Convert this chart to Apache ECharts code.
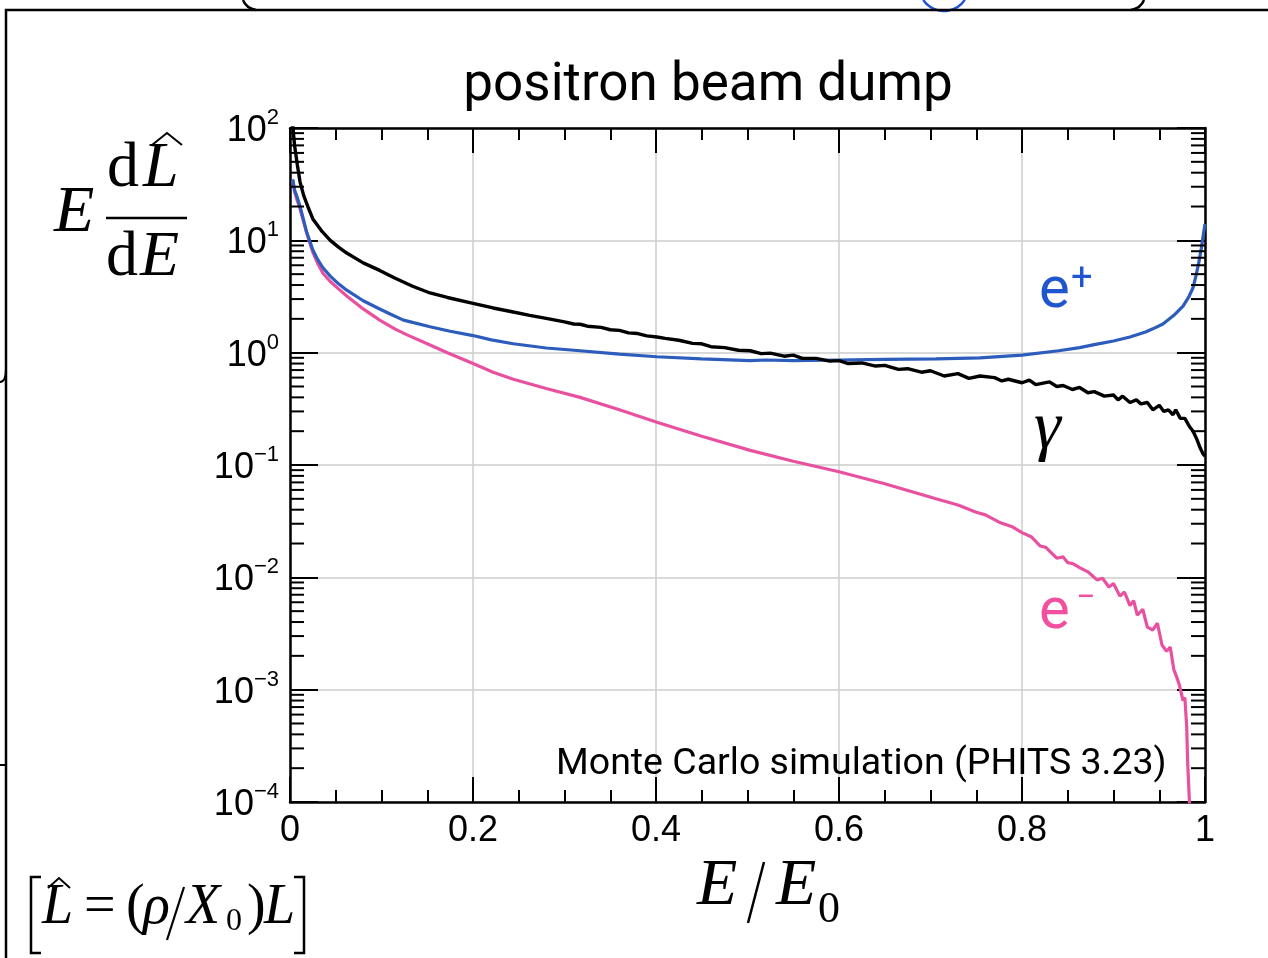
<!DOCTYPE html>
<html>
<head>
<meta charset="utf-8">
<title>positron beam dump</title>
<script src="https://cdn.jsdelivr.net/npm/echarts@6.0.0/dist/echarts.min.js"></script>
<style>
  html, body { margin: 0; padding: 0; background: #fff; }
  #chart { width: 1268px; height: 958px; }
</style>
</head>
<body>
<div id="chart"></div>
<script>
// tick values
var xTicks = [0, 0.2, 0.4, 0.6, 0.8, 1];
var yMinorSteps = [2, 3, 4, 5, 6, 7, 8, 9];
var yDecades = [-4, -3, -2, -1, 0, 1];

// photon (gamma)
var gammaE = [0.003, 0.005, 0.008, 0.011, 0.015, 0.02, 0.025, 0.035, 0.044, 0.053, 0.062, 0.08, 0.098, 0.115, 0.134, 0.153, 0.172, 0.2, 0.222, 0.244,
  0.262, 0.28, 0.3, 0.31, 0.317, 0.325, 0.34, 0.35, 0.36, 0.37, 0.38, 0.39, 0.401, 0.41, 0.425, 0.44, 0.45, 0.46, 0.475, 0.49,
  0.503, 0.515, 0.525, 0.54, 0.55, 0.56, 0.575, 0.59, 0.6, 0.61, 0.625, 0.64, 0.65, 0.665, 0.675, 0.69, 0.7, 0.715, 0.73, 0.742,
  0.754, 0.77, 0.778, 0.785, 0.8, 0.808, 0.815, 0.83, 0.838, 0.845, 0.855, 0.863, 0.872, 0.879, 0.89, 0.9, 0.905, 0.91, 0.918, 0.925,
  0.93, 0.937, 0.943, 0.95, 0.955, 0.96, 0.965, 0.968, 0.973, 0.978, 0.983, 0.987, 0.991, 0.995, 0.998, 1.0];
var gammaL = [105, 70, 47, 33, 25, 19.5, 15.5, 12, 10, 8.7, 7.7, 6.3, 5.4, 4.6, 3.9, 3.4, 3.1, 2.75, 2.5, 2.3,
  2.15, 2.02, 1.88, 1.8, 1.79, 1.72, 1.68, 1.6, 1.58, 1.5, 1.48, 1.41, 1.38, 1.34, 1.29, 1.21, 1.2, 1.13, 1.11, 1.05,
  1.04, 0.98, 0.99, 0.93, 0.95, 0.89, 0.89, 0.84, 0.85, 0.8, 0.81, 0.76, 0.77, 0.71, 0.72, 0.67, 0.69, 0.62, 0.65, 0.59,
  0.62, 0.6, 0.56, 0.58, 0.54, 0.57, 0.52, 0.55, 0.5, 0.51, 0.47, 0.49, 0.44, 0.45, 0.41, 0.42, 0.38, 0.41, 0.36, 0.38,
  0.35, 0.36, 0.31, 0.34, 0.3, 0.31, 0.28, 0.31, 0.26, 0.26, 0.22, 0.2, 0.17, 0.14, 0.125, 0.12];

// positron (e+)
var posE = [0.003, 0.005, 0.008, 0.011, 0.015, 0.018, 0.025, 0.03, 0.036, 0.044, 0.053, 0.062, 0.08, 0.098, 0.11, 0.124, 0.135, 0.153, 0.175, 0.2,
  0.22, 0.244, 0.28, 0.317, 0.36, 0.401, 0.45, 0.503, 0.52, 0.55, 0.6, 0.65, 0.706, 0.754, 0.8, 0.84, 0.863, 0.879, 0.9, 0.918,
  0.935, 0.943, 0.954, 0.966, 0.976, 0.982, 0.987, 0.99, 0.993, 0.996, 0.998, 1.0];
var posL = [35, 28, 24, 20, 15, 12, 8.2, 6.8, 5.7, 4.8, 4.1, 3.6, 2.9, 2.45, 2.2, 1.95, 1.85, 1.7, 1.55, 1.42,
  1.3, 1.2, 1.1, 1.04, 0.97, 0.92, 0.88, 0.85, 0.86, 0.85, 0.86, 0.87, 0.88, 0.9, 0.95, 1.04, 1.11, 1.18, 1.27, 1.38,
  1.53, 1.63, 1.8, 2.15, 2.6, 3.1, 3.8, 4.8, 6.2, 8.5, 11, 14];

// electron (e-)
var eleE = [0.003, 0.005, 0.008, 0.011, 0.015, 0.018, 0.025, 0.03, 0.036, 0.044, 0.053, 0.062, 0.08, 0.098, 0.115, 0.128, 0.15, 0.172, 0.2, 0.222,
  0.244, 0.28, 0.317, 0.36, 0.401, 0.45, 0.503, 0.55, 0.6, 0.65, 0.706, 0.73, 0.75, 0.76, 0.775, 0.79, 0.8, 0.81, 0.82, 0.826,
  0.838, 0.845, 0.85, 0.856, 0.863, 0.872, 0.882, 0.888, 0.895, 0.9, 0.907, 0.912, 0.918, 0.922, 0.926, 0.932, 0.937, 0.943, 0.948, 0.953,
  0.958, 0.962, 0.966, 0.969, 0.972, 0.976, 0.978, 0.98, 0.981, 0.983, 0.984];
var eleL = [34, 27, 22.5, 19, 14.5, 11.8, 7.8, 6.3, 5.1, 4.3, 3.7, 3.2, 2.45, 1.95, 1.62, 1.44, 1.2, 1.0, 0.8, 0.67,
  0.58, 0.48, 0.4, 0.31, 0.24, 0.18, 0.135, 0.108, 0.087, 0.068, 0.05, 0.044, 0.038, 0.036, 0.031, 0.028, 0.025, 0.023, 0.019, 0.0185,
  0.0148, 0.0152, 0.0135, 0.0132, 0.0122, 0.0112, 0.0095, 0.0098, 0.0082, 0.0088, 0.0068, 0.0074, 0.0056, 0.0062, 0.0046, 0.0052, 0.0036, 0.0034, 0.0039, 0.0025,
  0.0022, 0.0024, 0.0015, 0.0013, 0.0011, 0.0008, 0.00085, 0.00047, 0.00023, 0.0001, 0.00005];

function zip(a, b) {
    return a.map(function (v, i) { return [v, b[i]]; });
}

var yMinor = [];
yDecades.forEach(function (d) {
    yMinorSteps.forEach(function (m) { yMinor.push([0, m * Math.pow(10, d)]); });
});

var serif = 'Liberation Serif';
var sans = 'Liberation Sans';

// text helper, y = middle of the em box
function txt(x, y, s, size, o) {
    o = o || {};
    return {
        type: 'text', z: 100, silent: true,
        style: {
            text: s, x: x, y: y,
            fontSize: size, fontFamily: o.family || serif, fontStyle: o.italic ? 'italic' : 'normal',
            fill: o.color || '#000',
            align: o.align || 'left', textAlign: o.align || 'left',
            verticalAlign: 'middle', textVerticalAlign: 'middle'
        }
    };
}
function pl(points, color, w) {
    return { type: 'polyline', z: 100, silent: true, shape: { points: points },
        style: { stroke: color || '#000', lineWidth: w || 2.5, fill: null } };
}

var chart = echarts.init(document.getElementById('chart'));

var xAxisBase = {
    type: 'value', min: 0, max: 1, interval: 0.2,
    axisLine: { show: true, onZero: false, lineStyle: { color: '#000', width: 2.5 } },
    axisTick: { show: true, inside: true, length: 25, lineStyle: { color: '#000', width: 2 } },
    minorTick: { show: true, splitNumber: 4, length: 12, lineStyle: { color: '#000', width: 2 } },
    splitLine: { show: false },
    axisLabel: { show: false }
};

var yAxisBase = {
    type: 'log', logBase: 10, min: 1e-4, max: 100, interval: 1,
    axisLine: { show: true, onZero: false, lineStyle: { color: '#000', width: 2.5 } },
    axisTick: { show: true, inside: true, length: 28, lineStyle: { color: '#000', width: 2 } },
    minorTick: { show: false },
    splitLine: { show: false },
    axisLabel: { show: false }
};

chart.setOption({
    animation: false,
    backgroundColor: '#fff',
    grid: { left: 290, right: 63, top: 128, bottom: 156, containLabel: false, outerBoundsMode: 'none' },
    xAxis: [
        Object.assign({}, xAxisBase, {
            position: 'bottom',
            splitLine: { show: true, lineStyle: { color: '#cdcdcd', width: 1.5 } },
            axisLabel: {
                show: true, margin: 11, fontSize: 36, fontFamily: sans, color: '#000',
                formatter: function (v) { return String(+v.toFixed(2)); }
            }
        }),
        Object.assign({}, xAxisBase, { position: 'top' })
    ],
    yAxis: [
        Object.assign({}, yAxisBase, {
            position: 'left',
            splitLine: { show: true, lineStyle: { color: '#cdcdcd', width: 1.5 } },
            axisLabel: {
                show: true, margin: 11, align: 'right',
                formatter: function (v) {
                    var e = Math.round(Math.log10(v));
                    return '{b|10}{s|' + String(e).replace('-', '\u2212') + '}';
                },
                rich: {
                    b: { fontSize: 36, fontFamily: sans, color: '#000', lineHeight: 42, verticalAlign: 'bottom' },
                    s: { fontSize: 22, fontFamily: sans, color: '#000', lineHeight: 30, verticalAlign: 'top' }
                }
            }
        }),
        Object.assign({}, yAxisBase, { position: 'right' })
    ],
    series: [
        {
            name: 'e+', type: 'line', data: zip(posE, posL), showSymbol: false, symbol: 'none',
            lineStyle: { color: '#2c5cbc', width: 3.2 }, z: 3
        },
        {
            name: 'e-', type: 'line', data: zip(eleE, eleL), showSymbol: false, symbol: 'none',
            lineStyle: { color: '#e8519f', width: 3.2 }, z: 2
        },
        {
            name: 'gamma', type: 'line', data: zip(gammaE, gammaL), showSymbol: false, symbol: 'none',
            lineStyle: { color: '#000', width: 3.4 }, z: 4
        },
        {
            // minor log ticks, left and right
            type: 'custom', silent: true, clip: false, z: 6,
            data: yMinor,
            renderItem: function (params, api) {
                var l = api.coord([0, api.value(1)]);
                var r = api.coord([1, api.value(1)]);
                var st = { stroke: '#000', lineWidth: 2 };
                return { type: 'group', children: [
                    { type: 'line', shape: { x1: l[0], y1: l[1], x2: l[0] + 14, y2: l[1] }, style: st },
                    { type: 'line', shape: { x1: r[0] - 14, y1: r[1], x2: r[0], y2: r[1] }, style: st }
                ] };
            }
        }
    ],
    graphic: [
        // slide frame bits
        pl([[6, 958], [6, 10], [1268, 10]], '#000', 2.5),
        { type: 'bezierCurve', silent: true, shape: { x1: 243, y1: 0, cpx1: 246, cpy1: 8, x2: 256, y2: 10 }, style: { stroke: '#000', lineWidth: 2.5, fill: null } },
        { type: 'bezierCurve', silent: true, shape: { x1: 1144, y1: 0, cpx1: 1141, cpy1: 8, x2: 1131, y2: 10 }, style: { stroke: '#000', lineWidth: 2.5, fill: null } },
        { type: 'arc', silent: true, shape: { cx: 944, cy: -14, r: 25, startAngle: 0.59, endAngle: 2.55 }, style: { stroke: '#1f56d0', lineWidth: 2.5, fill: null } },
        { type: 'bezierCurve', silent: true, shape: { x1: 6, y1: 368, cpx1: 6, cpy1: 382, x2: 0, y2: 382 }, style: { stroke: '#000', lineWidth: 2, fill: null } },
        pl([[0, 765], [6, 765]], '#000', 2),

        // title and note
        txt(708, 87, 'positron beam dump', 53, { family: 'Roboto', align: 'center' }),
        txt(556, 765, 'Monte Carlo simulation (PHITS 3.23)', 37.5, { family: 'Roboto' }),

        // curve labels
        txt(1039, 292, 'e', 58, { family: 'Roboto', color: '#1f56d0' }),
        txt(1071, 280, '+', 38, { family: 'Roboto', color: '#1f56d0' }),
        txt(1034, 430, '\u03b3', 68, { italic: true }),
        txt(1039, 613, 'e', 58, { family: 'Roboto', color: '#f0509e' }),
        txt(1076, 599, '\u2212', 34, { family: 'Roboto', color: '#f0509e' }),

        // y axis name: E dL^/dE
        txt(54, 214, 'E', 66, { italic: true }),
        txt(107, 169, 'd', 64),
        txt(143, 169, 'L', 64, { italic: true }),
        pl([[152, 145], [167, 133], [182, 145]], '#000', 2),
        pl([[106, 218], [187, 218]], '#000', 2.5),
        txt(106, 258, 'd', 64),
        txt(140, 258, 'E', 64, { italic: true }),

        // x axis name: E/E0
        txt(697, 887, 'E', 66, { italic: true }),
        pl([[764, 862], [748, 923]], '#000', 2.5),
        txt(776, 887, 'E', 66, { italic: true }),
        txt(818, 910, '0', 44),

        // [L^ = (rho/X0) L]
        pl([[41, 877], [31, 877], [31, 953], [41, 953]], '#000', 2.5),
        txt(42, 908, 'L', 56, { italic: true }),
        pl([[48, 888], [59, 878], [70, 888]], '#000', 2),
        txt(84, 908, '=', 56),
        txt(126, 908, '(', 56),
        txt(143, 908, '\u03c1', 56, { italic: true }),
        pl([[184, 887], [167, 940]], '#000', 2.2),
        txt(186, 908, 'X', 56, { italic: true }),
        txt(226, 922, '0', 32),
        txt(247, 908, ')', 56),
        txt(264, 908, 'L', 56, { italic: true }),
        pl([[294, 877], [304, 877], [304, 953], [294, 953]], '#000', 2.5)
    ]
});
</script>
</body>
</html>
